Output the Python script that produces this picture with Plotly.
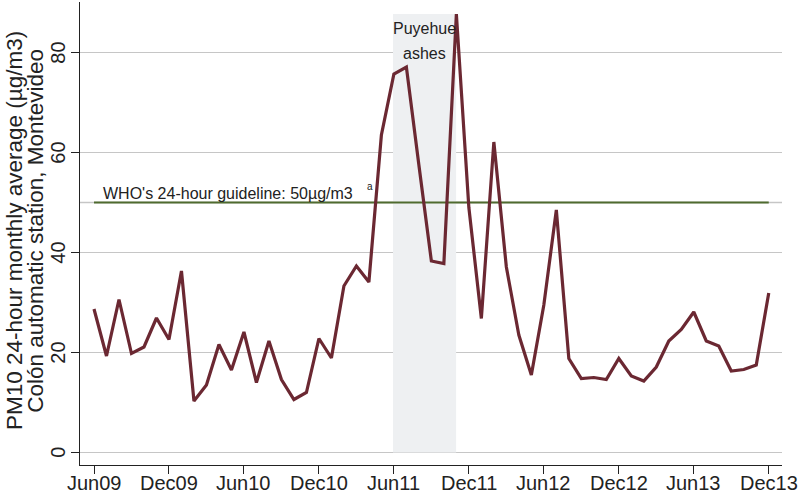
import plotly.graph_objects as go

# Monthly PM10 averages, Jun 2009 .. Dec 2013 (month index 0..54)
months = list(range(55))
pm10 = [28.7, 19.3, 30.6, 19.8, 21.1, 26.9, 22.6, 36.3, 10.3, 13.5,
        21.6, 16.5, 24.1, 14.0, 22.3, 14.6, 10.6, 12.0, 22.8, 18.9,
        33.3, 37.3, 34.1, 63.5, 75.7, 77.1, 57.5, 38.3, 37.8, 87.7,
        49.0, 26.8, 62.1, 37.1, 23.5, 15.5, 29.5, 48.5, 18.8, 14.8,
        15.0, 14.6, 18.8, 15.3, 14.3, 17.1, 22.3, 24.6, 28.1, 22.3,
        21.3, 16.3, 16.6, 17.5, 31.9]

tick_vals = [0, 6, 12, 18, 24, 30, 36, 42, 48, 54]
tick_text = ["Jun09", "Dec09", "Jun10", "Dec10", "Jun11",
             "Dec11", "Jun12", "Dec12", "Jun13", "Dec13"]
y_ticks = [0, 20, 40, 60, 80]
title_lines = ["PM10 24-hour monthly average (µg/m3)",
               "Colón automatic station, Montevideo"]

guideline = 50
band_start, band_end = 23.93, 28.98
band_top = max(pm10)

FONT = "Liberation Sans, Arial, Helvetica, sans-serif"
LINE_COLOR = "#6B2832"
GREEN = "#4F6B2F"
GRID = "#C6C6C6"
TXT = "#222222"

fig = go.Figure()

# Puyehue ash period band
fig.add_trace(go.Scatter(
    x=[band_start, band_end, band_end, band_start, band_start],
    y=[0, 0, band_top, band_top, 0],
    fill="toself", fillcolor="#EEF0F2", mode="lines",
    line=dict(width=0), hoverinfo="skip", showlegend=False))

# WHO guideline over data span
fig.add_trace(go.Scatter(
    x=[months[0], months[-1]], y=[guideline, guideline],
    mode="lines", line=dict(color=GREEN, width=2),
    hoverinfo="skip", showlegend=False))

# Data line
fig.add_trace(go.Scatter(
    x=months, y=pm10, mode="lines",
    line=dict(color=LINE_COLOR, width=3.2),
    showlegend=False))

# full-width gray line at guideline level
fig.add_shape(type="line", xref="paper", x0=0, x1=1, yref="y",
              y0=guideline, y1=guideline,
              line=dict(color=GRID, width=1.5), layer="below")

annotations = [
    dict(text="WHO's 24-hour guideline: 50µg/m3", xref="x", yref="y",
         x=0.6, y=guideline + 1.9, xanchor="left", yanchor="middle",
         showarrow=False, font=dict(size=16, family=FONT, color=TXT)),
    dict(text="a", xref="x", yref="y", x=22.1, y=guideline + 3.2,
         xanchor="center", yanchor="middle",
         showarrow=False, font=dict(size=10, family=FONT, color=TXT)),
    dict(text="Puyehue", xref="x", yref="y", x=(band_start + band_end) / 2,
         y=84.9, xanchor="center", yanchor="middle",
         showarrow=False, font=dict(size=16, family=FONT, color=TXT)),
    dict(text="ashes", xref="x", yref="y", x=(band_start + band_end) / 2,
         y=79.9, xanchor="center", yanchor="middle",
         showarrow=False, font=dict(size=16, family=FONT, color=TXT)),
]
# y-axis title, two rotated lines
for xp, line in zip([-0.0935, -0.0625], title_lines):
    annotations.append(dict(text=line, xref="paper", yref="paper", x=xp, y=0.506,
                            xanchor="center", yanchor="middle", textangle=-90,
                            showarrow=False,
                            font=dict(size=22.5, family=FONT, color=TXT)))
# x tick labels
for tv, tt in zip(tick_vals, tick_text):
    annotations.append(dict(text=tt, xref="x", yref="paper", x=tv, y=-0.038,
                            xanchor="center", yanchor="middle", showarrow=False,
                            font=dict(size=20, family=FONT, color=TXT)))
# y tick labels (rotated)
for yv in y_ticks:
    annotations.append(dict(text=str(yv), xref="paper", yref="y", x=-0.0325, y=yv,
                            xanchor="center", yanchor="middle", textangle=-90,
                            showarrow=False,
                            font=dict(size=20, family=FONT, color=TXT)))

fig.update_layout(
    width=800, height=493,
    margin=dict(l=80, r=18, t=2, b=28),
    plot_bgcolor="white", paper_bgcolor="white",
    font=dict(family=FONT, color=TXT),
    showlegend=False,
    xaxis=dict(
        range=[-1.12, 55.06], tickmode="array",
        tickvals=tick_vals, showticklabels=False,
        ticks="outside", ticklen=8, tickwidth=1, tickcolor=TXT,
        showgrid=False, zeroline=False, automargin=False,
        showline=True, linecolor=TXT, linewidth=1),
    yaxis=dict(
        range=[-2.5, 90.1], tickmode="array", tickvals=y_ticks,
        showticklabels=False,
        ticks="outside", ticklen=8, tickwidth=1, tickcolor=TXT,
        showgrid=True, gridcolor=GRID, gridwidth=1.5, automargin=False,
        zeroline=False, showline=True, linecolor=TXT, linewidth=1),
    annotations=annotations,
)

fig.write_html("out.html",
               config={"displayModeBar": False, "staticPlot": True},
               post_script="document.body.style.margin='0px';"
                           "document.body.style.overflow='hidden';")
